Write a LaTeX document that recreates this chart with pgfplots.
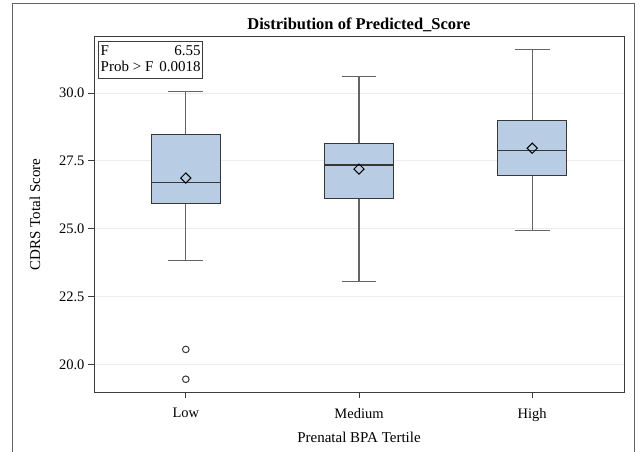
\documentclass[border=0pt]{standalone}
\usepackage{fontspec}
\setmainfont{Liberation Serif}
\usepackage{pgfplots}
\pgfplotsset{compat=1.18}
\definecolor{boxfill}{RGB}{184,204,228}
\definecolor{boxline}{RGB}{55,55,55}
\definecolor{whisk}{RGB}{100,100,100}
\definecolor{gridc}{RGB}{236,236,236}
\definecolor{axc}{RGB}{60,60,60}
\begin{document}
\begin{tikzpicture}
\path[use as bounding box] (0pt,0pt) rectangle (642pt,452pt);
\draw[axc!80, line width=1pt] (12.7pt,0pt) -- (12.7pt,448.7pt) -- (634pt,448.7pt) -- (634pt,0pt);
\begin{axis}[
  at={(94pt,60pt)}, anchor=south west,
  width=530pt, height=355pt, scale only axis,
  xmin=-0.53, xmax=2.53, ymin=18.98, ymax=32.07,
  xtick={0,1,2}, xticklabels={Low,Medium,High},
  ytick={20,22.5,25,27.5,30},
  /pgf/number format/assume math mode=true,
  yticklabel style={/pgf/number format/fixed,/pgf/number format/fixed zerofill,/pgf/number format/precision=1},
  xticklabel style={yshift=-6.5pt},
  tick label style={font=\fontsize{14.5}{16}\selectfont},
  label style={font=\fontsize{15}{17}\selectfont},
  ymajorgrids, grid style={gridc, line width=1pt},
  tick align=outside, xtick pos=bottom, ytick pos=left,
  major tick length=6pt,
  tick style={axc, line width=1pt},
  axis line style={axc, line width=1pt},
  xlabel={Prenatal BPA Tertile},
  ylabel={CDRS Total Score},
  xlabel style={at={(axis description cs:0.5,0)}, anchor=center, yshift=-45pt},
  ylabel style={at={(axis description cs:-0.1113,0.5)}, anchor=center},
  title={Distribution of Predicted\_Score},
  title style={at={(axis description cs:0.5,1)}, anchor=center, yshift=6pt, font=\bfseries\fontsize{16.5}{18}\selectfont},
  whisk/.style={draw=whisk, line width=1.1pt},
  boxs/.style={fill=boxfill, draw=boxline, line width=1.1pt},
  meds/.style={draw=boxline, line width=1.1pt},
]
% ---- Low: lw 23.84, q1 25.94, med 26.71, q3 28.46, uw 30.05
\addplot[whisk] coordinates {(0,28.46) (0,30.05)};
\addplot[whisk] coordinates {(-0.1,30.05) (0.1,30.05)};
\addplot[whisk] coordinates {(0,25.94) (0,23.84)};
\addplot[whisk] coordinates {(-0.1,23.84) (0.1,23.84)};
\addplot[boxs] coordinates {(-0.2,25.94) (0.2,25.94) (0.2,28.46) (-0.2,28.46)} -- cycle;
\addplot[meds] coordinates {(-0.2,26.71) (0.2,26.71)};
% ---- Medium: lw 23.05, q1 26.10, med 27.35, q3 28.15, uw 30.61
\addplot[whisk] coordinates {(1,28.15) (1,30.61)};
\addplot[whisk] coordinates {(0.9,30.61) (1.1,30.61)};
\addplot[whisk] coordinates {(1,26.10) (1,23.05)};
\addplot[whisk] coordinates {(0.9,23.05) (1.1,23.05)};
\addplot[boxs] coordinates {(0.8,26.10) (1.2,26.10) (1.2,28.15) (0.8,28.15)} -- cycle;
\addplot[meds] coordinates {(0.8,27.35) (1.2,27.35)};
% ---- High: lw 24.93, q1 26.96, med 27.87, q3 28.98, uw 31.60
\addplot[whisk] coordinates {(2,28.98) (2,31.60)};
\addplot[whisk] coordinates {(1.9,31.60) (2.1,31.60)};
\addplot[whisk] coordinates {(2,26.96) (2,24.93)};
\addplot[whisk] coordinates {(1.9,24.93) (2.1,24.93)};
\addplot[boxs] coordinates {(1.8,26.96) (2.2,26.96) (2.2,28.98) (1.8,28.98)} -- cycle;
\addplot[meds] coordinates {(1.8,27.87) (2.2,27.87)};
% ---- outliers
\addplot[only marks, mark=o, mark size=3.3pt, mark options={draw=boxline, line width=1pt}]
  coordinates {(0,20.55) (0,19.45)};
% ---- means
\addplot[only marks, mark=square, mark size=3.6pt, mark options={rotate=45, draw=black, line width=1pt, fill=none}]
  coordinates {(0,26.87) (1,27.20) (2,27.97)};
\node[draw=axc, line width=1pt, anchor=north west, inner sep=2pt, font=\fontsize{15}{17}\selectfont]
  at (rel axis cs:0.008,0.989)
  {\begin{tabular}{@{}l@{\hspace{6pt}}r@{}}F & 6.55\\[-1pt] Prob > F & 0.0018\end{tabular}};
\end{axis}
\end{tikzpicture}
\end{document}
